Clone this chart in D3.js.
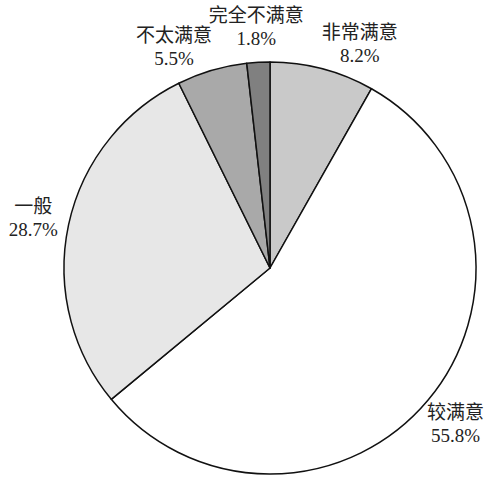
<!DOCTYPE html>
<html>
<head>
<meta charset="utf-8">
<script src="https://cdn.jsdelivr.net/npm/d3@7"></script>
<style>
  body { margin: 0; background: #fff; }
  text { font-family: "Liberation Serif", "Noto Sans CJK SC", serif; font-size: 19px; fill: #222; }
</style>
</head>
<body>
<div id="chart-area"></div>
<script>
// Data //
const categories = ["非常满意", "较满意", "一般", "不太满意", "完全不满意"];
const shares = [8.2, 55.8, 28.7, 5.5, 1.8];
const shareLabels = ["8.2%", "55.8%", "28.7%", "5.5%", "1.8%"];
const fills = ["#c9c9c9", "#ffffff", "#e7e7e7", "#a9a9a9", "#808080"];

// Canvas //
const width = 499, height = 480;
const cx = 270, cy = 268, radius = 206;

var svg = d3.select("#chart-area")
  .append("svg")
  .attr("width", width)
  .attr("height", height);

var g = svg.append("g")
  .attr("transform", "translate(" + cx + ", " + cy + ")");

var pie = d3.pie()
  .sort(null)
  .value(d => d.value);

var arc = d3.arc()
  .innerRadius(0)
  .outerRadius(radius);

var slices = pie(categories.map((c, i) => ({ name: c, value: shares[i], label: shareLabels[i], fill: fills[i] })));

g.selectAll("path.slice")
  .data(slices)
  .enter()
  .append("path")
  .attr("class", "slice")
  .attr("d", arc)
  .attr("fill", d => d.data.fill)
  .attr("stroke", "#111")
  .attr("stroke-width", 1.5)
  .attr("stroke-linejoin", "round");

// Labels: placed along the slice middle, small slices at the top spread apart
const labelRadius = 242;
const spread = { "非常满意": 7, "不太满意": -7 }; // degrees

var labels = g.selectAll("g.label")
  .data(slices)
  .enter()
  .append("g")
  .attr("class", "label")
  .attr("transform", d => {
    var a = (d.startAngle + d.endAngle) / 2 + (spread[d.data.name] || 0) * Math.PI / 180;
    return "translate(" + (labelRadius * Math.sin(a)) + ", " + (-labelRadius * Math.cos(a)) + ")";
  });

labels.append("text")
  .attr("text-anchor", "middle")
  .attr("y", -4)
  .text(d => d.data.name);

labels.append("text")
  .attr("text-anchor", "middle")
  .attr("y", 19)
  .text(d => d.data.label);
</script>
</body>
</html>
